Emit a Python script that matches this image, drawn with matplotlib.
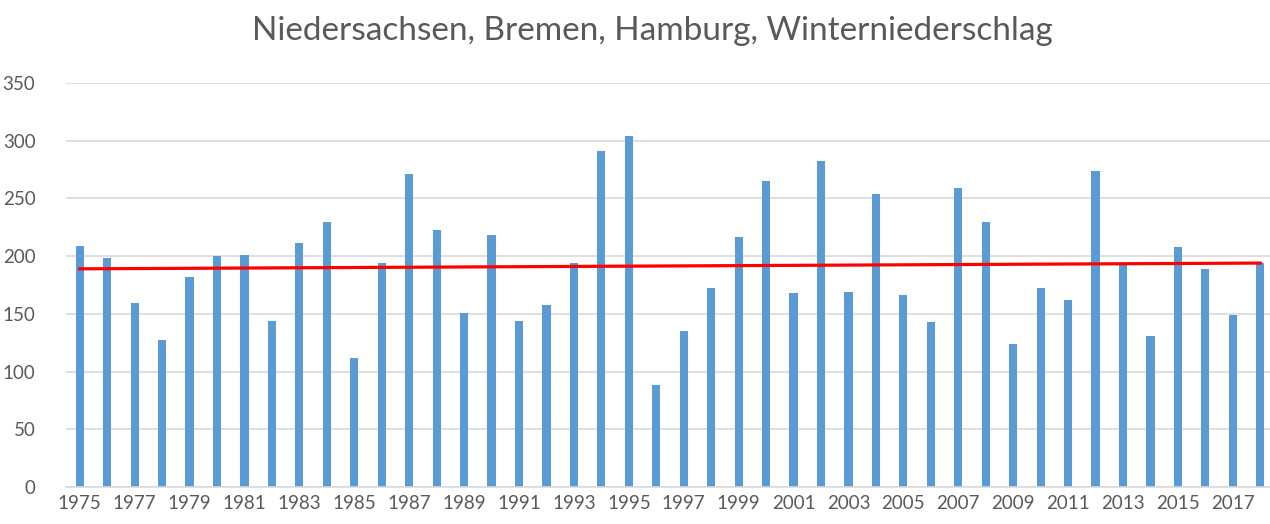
import numpy as np
import matplotlib
matplotlib.use("Agg")
import matplotlib.pyplot as plt

# Winter precipitation (mm), Niedersachsen/Bremen/Hamburg
years = list(range(1975, 2019))
precip = [209, 198, 159, 127, 182, 200, 201, 144, 211, 230,
          112, 194, 271, 223, 151, 218, 144, 158, 194, 291,
          304, 88, 135, 172, 217, 265, 168, 282, 169, 254,
          166, 143, 259, 230, 124, 172, 162, 274, 193, 131,
          208, 189, 149, 194]
trend_start = 189.0   # linear trend, 1975
trend_end = 194.0     # linear trend, 2018

TEXT = "#595959"
GRID = "#d9d9d9"
BAR = "#5b9bd5"

plt.rcParams["font.family"] = ["Lato", "DejaVu Sans"]

fig = plt.figure(figsize=(12.7, 5.24), dpi=100)
ax = fig.add_axes([66 / 1270, 37 / 524, (1274 - 66) / 1270, (487 - 83) / 524])

x = np.arange(len(years))
ax.bar(x, precip, width=0.3, color=BAR, zorder=2)
ax.plot([x[0], x[-1]], [trend_start, trend_end], color="#ff0000", linewidth=2.3, zorder=3)

ax.set_xlim(-0.5, len(years) - 0.5)
ax.set_ylim(0, 350)
ax.set_yticks(range(0, 351, 50))
ax.set_xticks(x[::2])
ax.set_xticklabels([str(y) for y in years[::2]])
ax.tick_params(axis="both", length=0, labelsize=13.5, colors=TEXT)
ax.tick_params(axis="x", pad=6)
ax.tick_params(axis="y", pad=22)
ax.grid(axis="y", color=GRID, linewidth=1.2, zorder=0)
for side in ["top", "right", "left"]:
    ax.spines[side].set_visible(False)
ax.spines["bottom"].set_color(GRID)
ax.spines["bottom"].set_linewidth(1.2)

fig.text(652 / 1270, 1 - 31 / 524, "Niedersachsen, Bremen, Hamburg, Winterniederschlag",
         ha="center", va="center", fontsize=24, color=TEXT)

fig.savefig("out.png", dpi=100)
